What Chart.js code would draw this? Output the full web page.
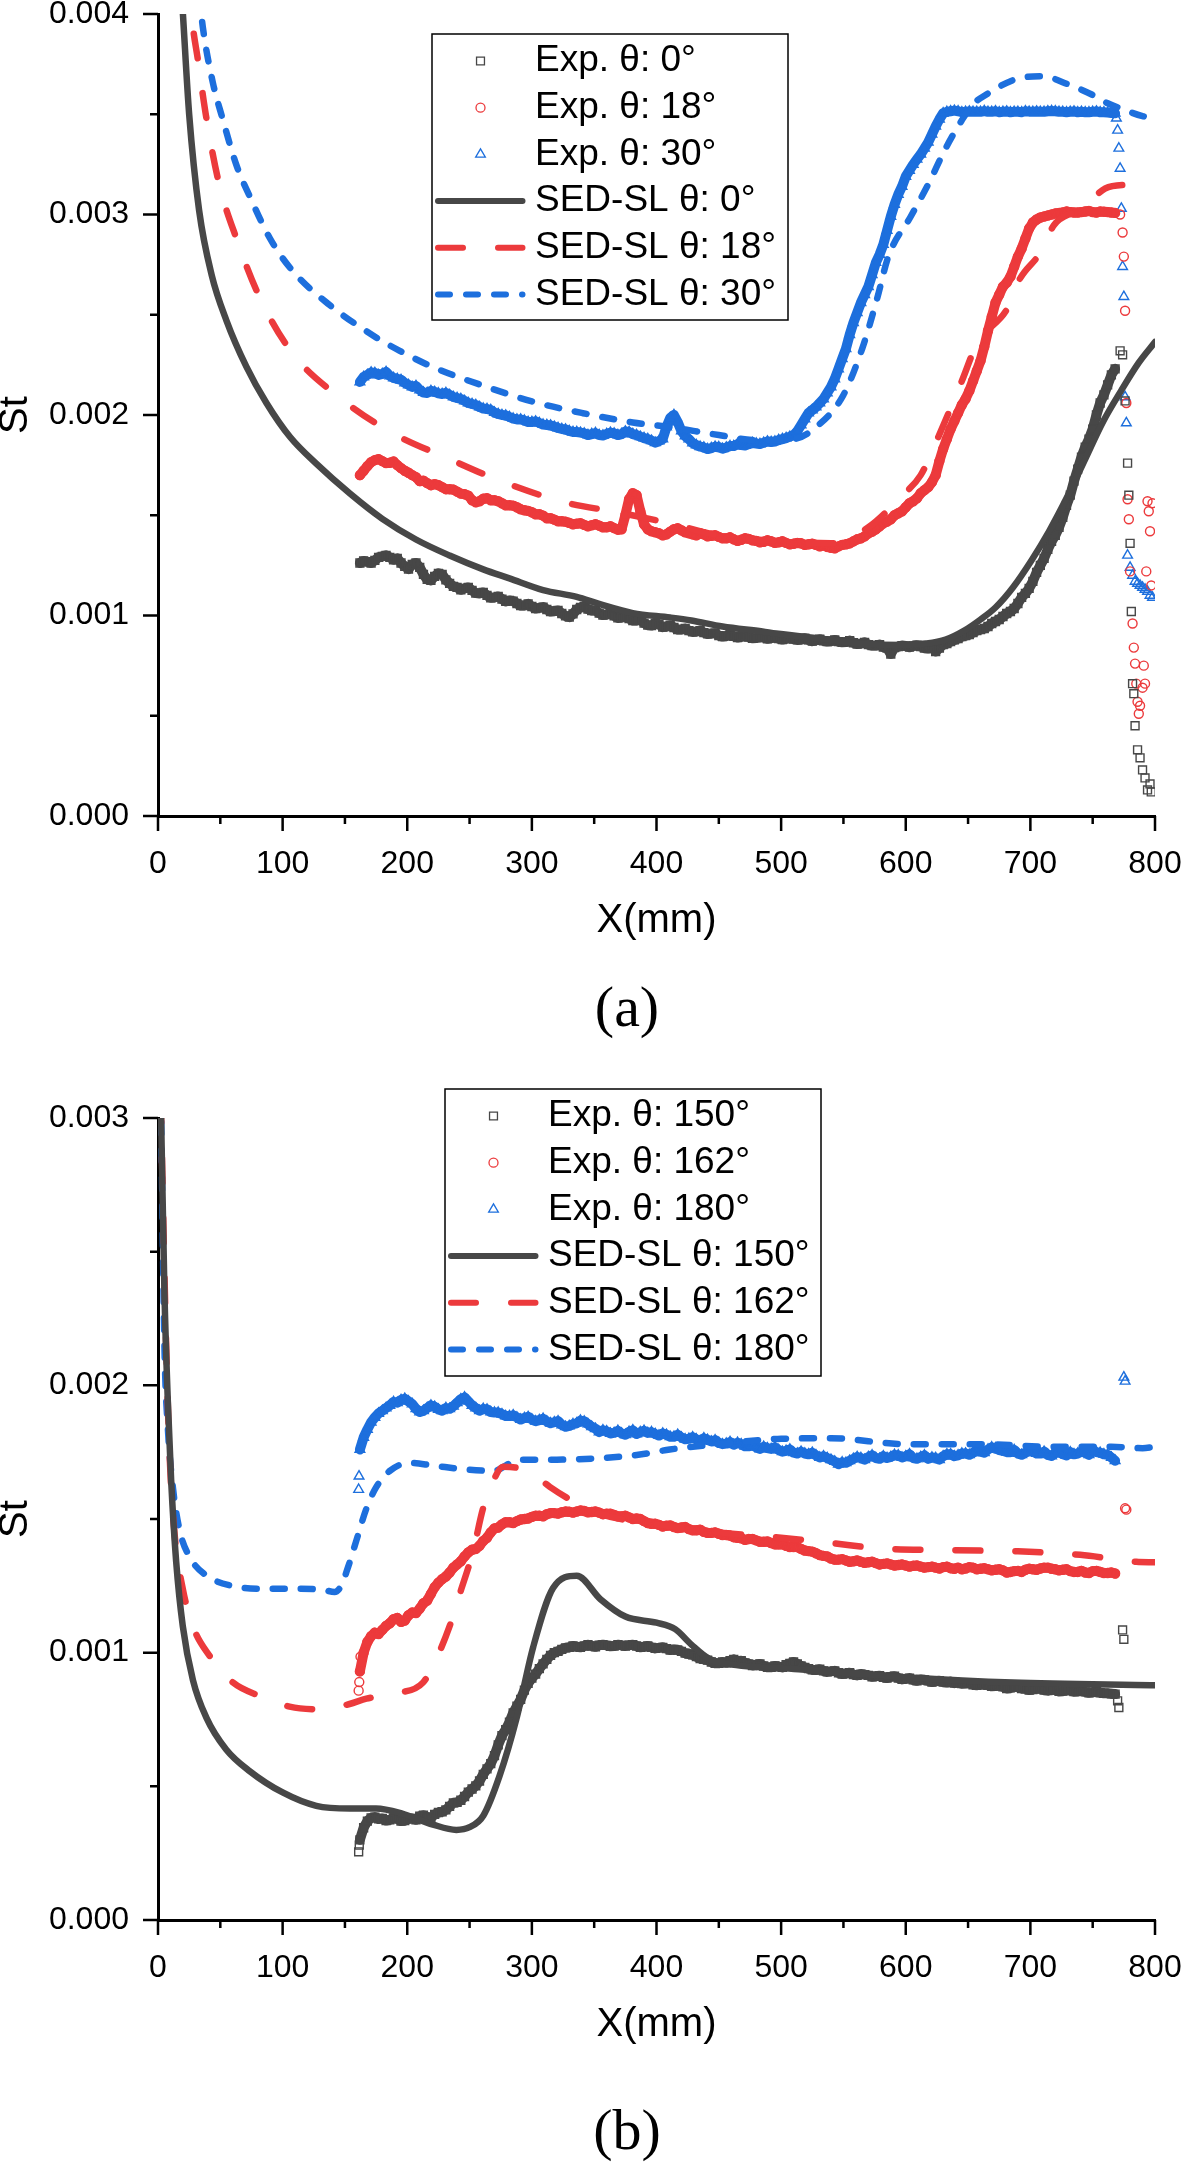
<!DOCTYPE html>
<html>
<head>
<meta charset="utf-8">
<script src="https://cdn.jsdelivr.net/npm/chart.js@4.4.1/dist/chart.umd.min.js"></script>
<style>
  html, body { margin: 0; padding: 0; background: #fff; width: 1181px; height: 2168px; overflow: hidden; position: relative; }
  canvas { position: absolute; left: 0; }
  #chartA { top: -36px; }
  #chartB { top: 1068px; }
  .cap { position: absolute; left: 527px; width: 200px; text-align: center; font-family: "Liberation Serif", serif; font-size: 58px; line-height: 58px; color: #000; }
</style>
</head>
<body>
<canvas id="chartA" width="1215" height="996"></canvas>
<canvas id="chartB" width="1215" height="996"></canvas>
<div class="cap" style="top:978px">(a)</div>
<div class="cap" style="top:2101px">(b)</div>
<script>
// axis ticks
var xTicks = [0, 100, 200, 300, 400, 500, 600, 700, 800]
var xMinor = [50, 150, 250, 350, 450, 550, 650, 750]
var yTicksA = [0, 0.001, 0.002, 0.003, 0.004]
var yMinorA = [0.0005, 0.0015, 0.0025, 0.0035]
var yTicksB = [0, 0.001, 0.002, 0.003]
var yMinorB = [0.0005, 0.0015, 0.0025]

// x positions of the measured points (mm): two interleaved rows
var xGrid = [162,168,174,180,186,192,198,204,210,216,
  222,228,234,240,246,252,258,264,270,276,
  282,288,294,300,306,312,318,324,330,336,
  342,348,354,360,366,372,378,384,390,396,
  402,408,414,420,426,432,438,444,450,456,
  462,468,474,480,486,492,498,504,510,516,
  522,528,534,540,546,552,558,564,570,576,
  582,588,594,600,606,612,618,624,630,636,
  642,648,654,660,666,672,678,684,690,696,
  702,708,714,720,726,732,738,744,750,756,
  762,768]
var xHalf = [165,171,177,183,189,195,201,207,213,219,
  225,231,237,243,249,255,261,267,273,279,
  285,291,297,303,309,315,321,327,333,339,
  345,351,357,363,369,375,381,387,393,399,
  405,411,417,423,429,435,441,447,453,459,
  465,471,477,483,489,495,501,507,513,519,
  525,531,537,543,549,555,561,567,573,579,
  585,591,597,603,609,615,621,627,633,639,
  645,651,657,663,669,675,681,687,693,699,
  705,711,717,723,729,735,741,747,753,759,
  765]

// ---------- (a) experiments ----------
var stExpA0 = [0.001262,0.001268,0.001275,0.001295,0.001290,0.001285,0.001245,0.001255,0.001240,0.001180,
  0.001195,0.001205,0.001160,0.001140,0.001135,0.001125,0.001110,0.001100,0.001090,0.001082,
  0.001075,0.001060,0.001050,0.001045,0.001038,0.001030,0.001022,0.001010,0.000992,0.001030,
  0.001045,0.001025,0.001012,0.001005,0.000998,0.000990,0.000985,0.000975,0.000962,0.000950,
  0.000955,0.000945,0.000940,0.000930,0.000925,0.000920,0.000915,0.000910,0.000900,0.000898,
  0.000896,0.000894,0.000892,0.000888,0.000890,0.000887,0.000885,0.000884,0.000882,0.000880,
  0.000878,0.000876,0.000874,0.000872,0.000870,0.000868,0.000864,0.000860,0.000855,0.000850,
  0.000842,0.000808,0.000845,0.000848,0.000848,0.000845,0.000835,0.000820,0.000855,0.000870,
  0.000885,0.000900,0.000915,0.000930,0.000945,0.000970,0.000995,0.001020,0.001060,0.001110,
  0.001170,0.001250,0.001330,0.001400,0.001490,0.001600,0.001730,0.001840,0.001930,0.002060,
  0.002150,0.002230]
var stExpA0h = [0.001272,0.001262,0.001290,0.001300,0.001278,0.001262,0.001232,0.001262,0.001205,0.001175,
  0.001210,0.001178,0.001145,0.001128,0.001140,0.001112,0.001115,0.001088,0.001095,0.001070,
  0.001072,0.001050,0.001058,0.001035,0.001042,0.001020,0.001025,0.000998,0.001008,0.001040,
  0.001032,0.001025,0.001002,0.001010,0.000988,0.000995,0.000975,0.000980,0.000952,0.000960,
  0.000942,0.000950,0.000930,0.000935,0.000918,0.000925,0.000908,0.000912,0.000895,0.000905,
  0.000890,0.000900,0.000886,0.000895,0.000884,0.000893,0.000880,0.000890,0.000878,0.000887,
  0.000872,0.000882,0.000870,0.000878,0.000866,0.000875,0.000858,0.000866,0.000850,0.000855,
  0.000838,0.000840,0.000850,0.000842,0.000852,0.000838,0.000845,0.000838,0.000860,0.000878,
  0.000895,0.000905,0.000925,0.000935,0.000960,0.000980,0.001010,0.001035,0.001090,0.001135,
  0.001215,0.001285,0.001370,0.001440,0.001550,0.001670,0.001790,0.001880,0.002000,0.002100,
  0.002200]
var stExpA18 = [0.001700,0.001745,0.001775,0.001770,0.001762,0.001750,0.001722,0.001700,0.001670,0.001660,
  0.001655,0.001640,0.001630,0.001618,0.001605,0.001575,0.001570,0.001585,0.001575,0.001560,
  0.001550,0.001540,0.001525,0.001515,0.001505,0.001485,0.001478,0.001470,0.001462,0.001458,
  0.001452,0.001450,0.001448,0.001440,0.001436,0.001430,0.001580,0.001600,0.001455,0.001420,
  0.001410,0.001405,0.001430,0.001425,0.001410,0.001400,0.001405,0.001398,0.001392,0.001385,
  0.001380,0.001378,0.001382,0.001372,0.001368,0.001370,0.001365,0.001362,0.001358,0.001360,
  0.001355,0.001352,0.001350,0.001338,0.001345,0.001355,0.001370,0.001385,0.001410,0.001430,
  0.001460,0.001480,0.001510,0.001540,0.001570,0.001610,0.001640,0.001700,0.001830,0.001930,
  0.002010,0.002080,0.002170,0.002270,0.002420,0.002560,0.002640,0.002690,0.002790,0.002880,
  0.002960,0.002985,0.002995,0.003005,0.003010,0.003012,0.003010,0.003015,0.003012,0.003015,
  0.003012,0.003008]
var stExpA18h = [0.001722,0.001765,0.001780,0.001760,0.001768,0.001735,0.001712,0.001690,0.001672,0.001650,
  0.001650,0.001630,0.001628,0.001608,0.001598,0.001565,0.001582,0.001575,0.001570,0.001550,
  0.001548,0.001530,0.001522,0.001505,0.001498,0.001485,0.001470,0.001468,0.001455,0.001460,
  0.001445,0.001455,0.001440,0.001445,0.001428,0.001500,0.001610,0.001520,0.001430,0.001415,
  0.001400,0.001418,0.001435,0.001415,0.001405,0.001410,0.001395,0.001400,0.001385,0.001390,
  0.001372,0.001385,0.001375,0.001365,0.001375,0.001362,0.001370,0.001355,0.001362,0.001352,
  0.001358,0.001345,0.001342,0.001335,0.001352,0.001360,0.001380,0.001395,0.001418,0.001445,
  0.001468,0.001500,0.001520,0.001560,0.001585,0.001625,0.001665,0.001770,0.001880,0.001970,
  0.002050,0.002120,0.002220,0.002340,0.002490,0.002600,0.002660,0.002740,0.002830,0.002930,
  0.002975,0.002990,0.003000,0.003008,0.003015,0.003010,0.003012,0.003018,0.003010,0.003014,
  0.003010]
var stExpA30 = [0.002165,0.002200,0.002210,0.002205,0.002195,0.002180,0.002160,0.002140,0.002125,0.002110,
  0.002115,0.002105,0.002100,0.002085,0.002070,0.002055,0.002040,0.002030,0.002012,0.002000,
  0.001990,0.001978,0.001972,0.001965,0.001960,0.001950,0.001942,0.001930,0.001920,0.001915,
  0.001908,0.001905,0.001900,0.001905,0.001908,0.001905,0.001915,0.001900,0.001885,0.001872,
  0.001870,0.001940,0.002000,0.001920,0.001880,0.001850,0.001838,0.001835,0.001840,0.001838,
  0.001845,0.001850,0.001855,0.001858,0.001862,0.001865,0.001875,0.001885,0.001900,0.001950,
  0.002010,0.002040,0.002080,0.002140,0.002230,0.002330,0.002460,0.002560,0.002640,0.002760,
  0.002850,0.002990,0.003100,0.003190,0.003250,0.003300,0.003360,0.003440,0.003505,0.003515,
  0.003515,0.003512,0.003512,0.003512,0.003512,0.003515,0.003512,0.003510,0.003512,0.003515,
  0.003512,0.003512,0.003515,0.003515,0.003512,0.003512,0.003510,0.003510,0.003512,0.003510,
  0.003508,0.003505]
var stExpA30h = [0.002190,0.002212,0.002200,0.002215,0.002185,0.002175,0.002150,0.002145,0.002112,0.002120,
  0.002108,0.002110,0.002090,0.002080,0.002060,0.002050,0.002032,0.002025,0.002005,0.001998,
  0.001982,0.001978,0.001965,0.001968,0.001952,0.001948,0.001935,0.001928,0.001915,0.001912,
  0.001900,0.001910,0.001898,0.001912,0.001900,0.001918,0.001905,0.001892,0.001880,0.001862,
  0.001880,0.001985,0.001965,0.001895,0.001860,0.001842,0.001830,0.001842,0.001832,0.001845,
  0.001855,0.001848,0.001860,0.001855,0.001868,0.001868,0.001880,0.001892,0.001920,0.001980,
  0.002025,0.002060,0.002110,0.002180,0.002280,0.002400,0.002510,0.002600,0.002700,0.002800,
  0.002920,0.003050,0.003140,0.003220,0.003275,0.003330,0.003400,0.003475,0.003512,0.003518,
  0.003510,0.003514,0.003512,0.003516,0.003512,0.003510,0.003514,0.003512,0.003510,0.003513,
  0.003514,0.003512,0.003516,0.003512,0.003510,0.003514,0.003512,0.003510,0.003514,0.003510,
  0.003506]

// scattered points near the trailing edge
var tailXA0 = [772,774,776,778,779,780,781,782,783,784,786,788,790,792,794,796,797]
var tailStA0 = [0.002320,0.002300,0.002070,0.001760,0.001600,0.001360,0.001020,0.000660,0.000610,0.000450,0.000330,0.000290,0.000230,0.000190,0.000130,0.000160,0.000120]
var tailXA18 = [772,774,775,776,777,778,779,780,782,783,784,785,786,787,788,790,791,792,793,794,795,796,797,798]
var tailStA18 = [0.003000,0.002910,0.002790,0.002520,0.002060,0.001580,0.001480,0.001220,0.000960,0.000840,0.000760,0.000660,0.000570,0.000510,0.000550,0.000640,0.000750,0.000660,0.001220,0.001570,0.001520,0.001420,0.001150,0.001560]
var tailXA30 = [769,770,771,772,773,774,775,776,777,778,780,782,784,786,788,790,792,794,796,798]
var tailStA30 = [0.003480,0.003420,0.003330,0.003230,0.003030,0.002740,0.002590,0.002090,0.001960,0.001300,0.001240,0.001200,0.001170,0.001160,0.001150,0.001140,0.001130,0.001120,0.001100,0.001090]

// ---------- (a) SED-SL ----------
var sedXA0 = [15,18,20,25,33,43,55,71,87,106,127,154,180,207,234,261,282,309,336,354,381,411,428,453,485,496,538,574,600,616,632,647,660,672,686,701,715,730,744,758,773,787,800]
var sedStA0 = [0.00460,0.00420,0.00400,0.00350,0.00302,0.00270,0.00247,0.00224,0.00206,0.00189,0.001757,0.001608,0.001482,0.001379,0.001299,0.001230,0.001185,0.001127,0.001093,0.001058,0.001012,0.000990,0.000975,0.000945,0.000920,0.000910,0.000880,0.000855,0.000853,0.000860,0.000880,0.000925,0.000980,0.001040,0.001140,0.001276,0.001420,0.001597,0.001780,0.001963,0.002123,0.002261,0.002364]
var sedXA18 = [25,27,32,39,49,63,82,108,143,186,234,277,328,368,411,450,500,540,570,597,612,624,645,657,682,691,708,719,737,750,760,780,800]
var sedStA18 = [0.00420,0.00400,0.003772,0.003474,0.003154,0.002879,0.002581,0.002307,0.002100,0.001917,0.001780,0.001666,0.001562,0.001516,0.001459,0.001400,0.001370,0.001360,0.001440,0.001597,0.001700,0.001860,0.002169,0.002353,0.002536,0.002673,0.002810,0.002948,0.003020,0.003080,0.003130,0.003150,0.003165]
var sedXA30 = [33,36,44,52,63,74,90,108,138,175,194,221,261,301,341,381,410,450,480,510,530,550,565,577,586,604,618,632,645,654,665,686,698,709,730,752,762,772,790,800]
var sedStA30 = [0.00410,0.003933,0.003658,0.003474,0.003245,0.003085,0.002879,0.002719,0.002547,0.002387,0.002320,0.002238,0.002146,0.002066,0.002009,0.001963,0.001940,0.001900,0.001875,0.001880,0.001950,0.002100,0.002330,0.002580,0.002790,0.002990,0.003150,0.003330,0.003470,0.003550,0.003600,0.003670,0.003687,0.003690,0.003650,0.003590,0.003555,0.003530,0.003491,0.003480]

// ---------- (b) experiments ----------
var stExpB150 = [0.000300,0.000370,0.000385,0.000380,0.000375,0.000378,0.000372,0.000380,0.000388,0.000385,
  0.000395,0.000405,0.000425,0.000440,0.000462,0.000490,0.000520,0.000565,0.000615,0.000690,
  0.000740,0.000800,0.000860,0.000905,0.000940,0.000975,0.001000,0.001012,0.001020,0.001022,
  0.001025,0.001025,0.001028,0.001027,0.001025,0.001027,0.001028,0.001025,0.001022,0.001020,
  0.001018,0.001015,0.001012,0.001005,0.000995,0.000985,0.000975,0.000965,0.000960,0.000962,
  0.000975,0.000970,0.000958,0.000955,0.000950,0.000945,0.000948,0.000955,0.000965,0.000950,
  0.000940,0.000935,0.000932,0.000930,0.000925,0.000922,0.000918,0.000920,0.000915,0.000912,
  0.000908,0.000910,0.000905,0.000902,0.000898,0.000900,0.000895,0.000893,0.000890,0.000892,
  0.000888,0.000885,0.000880,0.000882,0.000878,0.000875,0.000872,0.000868,0.000870,0.000865,
  0.000862,0.000865,0.000858,0.000860,0.000856,0.000858,0.000855,0.000853,0.000852,0.000850,
  0.000848,0.000845]
var stExpB150h = [0.000345,0.000382,0.000378,0.000372,0.000382,0.000370,0.000378,0.000375,0.000392,0.000382,
  0.000402,0.000412,0.000438,0.000448,0.000478,0.000502,0.000545,0.000585,0.000655,0.000712,
  0.000775,0.000825,0.000885,0.000920,0.000958,0.000990,0.001005,0.001018,0.001025,0.001020,
  0.001030,0.001022,0.001030,0.001024,0.001030,0.001025,0.001030,0.001020,0.001025,0.001016,
  0.001020,0.001010,0.001010,0.000998,0.000992,0.000978,0.000972,0.000960,0.000965,0.000970,
  0.000968,0.000962,0.000952,0.000958,0.000945,0.000950,0.000945,0.000960,0.000958,0.000945,
  0.000936,0.000938,0.000928,0.000932,0.000920,0.000925,0.000915,0.000918,0.000910,0.000914,
  0.000905,0.000912,0.000900,0.000905,0.000895,0.000898,0.000890,0.000895,0.000888,0.000886,
  0.000884,0.000886,0.000878,0.000880,0.000874,0.000877,0.000866,0.000872,0.000866,0.000860,
  0.000866,0.000860,0.000862,0.000855,0.000860,0.000854,0.000857,0.000850,0.000854,0.000848,
  0.000846]
var stExpB162 = [0.000930,0.001040,0.001075,0.001085,0.001110,0.001130,0.001120,0.001150,0.001165,0.001195,
  0.001245,0.001275,0.001300,0.001330,0.001360,0.001385,0.001400,0.001430,0.001465,0.001480,
  0.001488,0.001492,0.001500,0.001508,0.001512,0.001518,0.001522,0.001525,0.001527,0.001528,
  0.001530,0.001526,0.001524,0.001520,0.001515,0.001510,0.001506,0.001502,0.001492,0.001482,
  0.001478,0.001475,0.001470,0.001468,0.001462,0.001458,0.001452,0.001448,0.001445,0.001440,
  0.001432,0.001428,0.001425,0.001420,0.001415,0.001410,0.001405,0.001400,0.001395,0.001388,
  0.001380,0.001372,0.001362,0.001352,0.001348,0.001345,0.001342,0.001340,0.001338,0.001335,
  0.001332,0.001330,0.001328,0.001326,0.001325,0.001322,0.001320,0.001318,0.001320,0.001316,
  0.001318,0.001315,0.001318,0.001314,0.001312,0.001310,0.001308,0.001302,0.001306,0.001310,
  0.001312,0.001315,0.001318,0.001312,0.001310,0.001305,0.001302,0.001300,0.001305,0.001302,
  0.001298,0.001296]
var stExpB162h = [0.001000,0.001062,0.001070,0.001100,0.001125,0.001115,0.001140,0.001148,0.001185,0.001220,
  0.001262,0.001285,0.001318,0.001342,0.001375,0.001388,0.001418,0.001450,0.001468,0.001488,
  0.001485,0.001498,0.001502,0.001512,0.001510,0.001522,0.001520,0.001528,0.001524,0.001532,
  0.001525,0.001528,0.001518,0.001520,0.001510,0.001512,0.001500,0.001500,0.001485,0.001482,
  0.001472,0.001476,0.001466,0.001470,0.001458,0.001460,0.001448,0.001450,0.001440,0.001438,
  0.001430,0.001422,0.001425,0.001415,0.001416,0.001405,0.001405,0.001395,0.001395,0.001382,
  0.001378,0.001365,0.001360,0.001348,0.001350,0.001340,0.001345,0.001336,0.001340,0.001330,
  0.001334,0.001326,0.001330,0.001322,0.001326,0.001318,0.001322,0.001315,0.001322,0.001314,
  0.001312,0.001320,0.001312,0.001316,0.001308,0.001312,0.001300,0.001305,0.001302,0.001314,
  0.001310,0.001318,0.001314,0.001308,0.001312,0.001302,0.001306,0.001298,0.001306,0.001298,
  0.001300]
var stExpB180 = [0.001760,0.001835,0.001880,0.001905,0.001925,0.001935,0.001950,0.001930,0.001900,0.001915,
  0.001920,0.001905,0.001912,0.001935,0.001955,0.001925,0.001905,0.001910,0.001898,0.001892,
  0.001885,0.001880,0.001878,0.001872,0.001870,0.001865,0.001862,0.001852,0.001848,0.001858,
  0.001865,0.001845,0.001825,0.001828,0.001822,0.001820,0.001826,0.001818,0.001830,0.001825,
  0.001812,0.001815,0.001808,0.001805,0.001800,0.001798,0.001802,0.001790,0.001785,0.001782,
  0.001778,0.001780,0.001772,0.001768,0.001770,0.001762,0.001758,0.001755,0.001748,0.001752,
  0.001742,0.001738,0.001735,0.001722,0.001705,0.001710,0.001725,0.001728,0.001732,0.001728,
  0.001735,0.001732,0.001738,0.001735,0.001728,0.001732,0.001725,0.001728,0.001735,0.001742,
  0.001738,0.001745,0.001748,0.001752,0.001760,0.001765,0.001755,0.001750,0.001745,0.001748,
  0.001752,0.001745,0.001740,0.001748,0.001742,0.001750,0.001745,0.001748,0.001755,0.001748,
  0.001740,0.001718]
var stExpB180h = [0.001805,0.001862,0.001895,0.001915,0.001938,0.001945,0.001940,0.001912,0.001905,0.001925,
  0.001910,0.001915,0.001922,0.001948,0.001940,0.001915,0.001912,0.001900,0.001898,0.001885,
  0.001888,0.001872,0.001882,0.001866,0.001875,0.001858,0.001866,0.001845,0.001855,0.001868,
  0.001855,0.001838,0.001832,0.001820,0.001830,0.001815,0.001832,0.001825,0.001822,0.001818,
  0.001820,0.001808,0.001815,0.001798,0.001806,0.001792,0.001796,0.001795,0.001780,0.001788,
  0.001785,0.001772,0.001778,0.001762,0.001765,0.001768,0.001752,0.001760,0.001745,0.001745,
  0.001748,0.001730,0.001728,0.001715,0.001712,0.001718,0.001732,0.001722,0.001738,0.001725,
  0.001728,0.001740,0.001730,0.001742,0.001725,0.001738,0.001730,0.001722,0.001742,0.001735,
  0.001745,0.001740,0.001755,0.001748,0.001768,0.001758,0.001750,0.001758,0.001740,0.001755,
  0.001745,0.001752,0.001736,0.001755,0.001738,0.001742,0.001752,0.001740,0.001750,0.001742,
  0.001730]

var tailXB150 = [161,161.5,770,771,774,775]
var tailStB150 = [0.000255,0.000280,0.000820,0.000795,0.001085,0.001050]
var tailXB162 = [161,161.5,162.5,776,777]
var tailStB162 = [0.000858,0.000890,0.000985,0.001540,0.001535]
var tailXB180 = [161,161.3,775,776]
var tailStB180 = [0.001610,0.001660,0.002030,0.002015]

// ---------- (b) SED-SL ----------
var sedXB150 = [1,2.5,5.2,7.9,10.6,14.6,19.9,28,38.7,54.7,73.5,100,127,154,175,196.5,220.6,239.4,250,261,274,288,301,317,336,355,375,400,415,428,442,457,514,600,686,800]
var sedStB150 = [0.00330,0.00300,0.002341,0.001940,0.001640,0.001339,0.001099,0.000898,0.000758,0.000638,0.000557,0.000477,0.000427,0.000417,0.000417,0.000397,0.000357,0.000337,0.000347,0.000390,0.000538,0.000760,0.001020,0.001242,0.001288,0.001200,0.001135,0.001112,0.001088,0.001030,0.000978,0.000958,0.000938,0.000908,0.000888,0.000878]
var sedXB162 = [1,2.5,4.6,6.6,9.3,13.4,19.9,28,41.4,60.2,81.5,105.6,132.4,153.7,167.2,191.2,212.6,223.4,234,242.1,252.8,260.8,268.8,276.8,290,300.9,314.4,335.7,354.4,400,450,500,540,580,640,690,740,785,800]
var sedStB162 = [0.00330,0.00300,0.002541,0.002141,0.001740,0.001439,0.001239,0.001099,0.000988,0.000888,0.000838,0.000798,0.000788,0.000808,0.000828,0.000848,0.000888,0.000978,0.001099,0.001219,0.001379,0.001539,0.001640,0.001695,0.001690,0.001670,0.001620,0.001560,0.001519,0.001480,0.001450,0.001430,0.001410,0.001390,0.001383,0.001379,0.001366,0.001340,0.001338]
var sedXB180 = [1,2.5,5.2,7.9,11.9,17.3,25.3,38.7,60.2,87,113.7,132.4,141.7,147,152.5,159.2,167.2,175.2,186,202,220.7,247.4,268.8,290,320,356.5,386.7,410.6,450,500,540,600,660,720,765,790,800]
var sedStB180 = [0.00330,0.00300,0.002141,0.001840,0.001620,0.001459,0.001359,0.001289,0.001249,0.001239,0.001239,0.001235,0.001227,0.001250,0.001320,0.001420,0.001539,0.001620,0.001680,0.001710,0.001700,0.001685,0.001680,0.001722,0.001722,0.001728,0.001741,0.001760,0.001780,0.001800,0.001802,0.001780,0.001780,0.001770,0.001770,0.001765,0.001770]

var FONT = '"Liberation Sans", Arial, sans-serif'
var GRAY = '#474747'
var RED = '#ec3a3c'
var BLUE = '#1d6fdd'

Chart.defaults.font.family = FONT
Chart.defaults.color = '#000'

function pontos(xs, ys) {
    return xs.map((x, i) => ({ x: x, y: ys[i] }))
}

// as duas fileiras de medidas, ordenadas em x
function juntar(ys, ysMeio) {
    return pontos(xGrid, ys).concat(pontos(xHalf, ysMeio)).sort((p, q) => p.x - q.x)
}

// faixa densa de marcadores (as medidas se sobrepoem formando uma faixa)
function serieExp(label, ys, ysMeio, cor, estilo, raio) {
    return {
        label: label,
        tipo: 'exp',
        data: juntar(ys, ysMeio),
        showLine: true,
        borderColor: cor,
        borderWidth: 10,
        borderJoinStyle: 'round',
        borderCapStyle: 'round',
        pointStyle: estilo,
        pointRadius: raio,
        pointBorderColor: cor,
        pointBackgroundColor: 'rgba(0,0,0,0)',
        pointBorderWidth: 1.4,
        order: 1
    }
}

// pontos soltos no bordo de fuga
function serieCauda(tx, ty, cor, estilo, raio) {
    return {
        label: '',
        data: pontos(tx, ty),
        showLine: false,
        pointStyle: estilo,
        pointRadius: raio,
        pointBorderColor: cor,
        pointBackgroundColor: 'rgba(0,0,0,0)',
        pointBorderWidth: 1.4,
        order: 1
    }
}

function serieSed(label, xs, ys, cor, traco) {
    return {
        label: label,
        tipo: 'sed',
        data: pontos(xs, ys),
        showLine: true,
        borderColor: cor,
        borderWidth: 6.5,
        borderDash: traco,
        borderCapStyle: 'round',
        borderJoinStyle: 'round',
        cubicInterpolationMode: 'monotone',
        pointRadius: 0,
        order: 0
    }
}

// marcas de escala (maiores e menores) + legenda com moldura
const extras = {
    id: 'extras',
    afterDraw(chart, args, opts) {
        const ctx = chart.ctx
        const area = chart.chartArea
        const sx = chart.scales.x, sy = chart.scales.y
        ctx.save()
        ctx.strokeStyle = '#000'
        ctx.lineWidth = 2.5
        ctx.beginPath()
        xTicks.forEach(v => { const p = sx.getPixelForValue(v); ctx.moveTo(p, area.bottom); ctx.lineTo(p, area.bottom + 15) })
        xMinor.forEach(v => { const p = sx.getPixelForValue(v); ctx.moveTo(p, area.bottom); ctx.lineTo(p, area.bottom + 8) })
        opts.yTicks.forEach(v => { const p = sy.getPixelForValue(v); ctx.moveTo(area.left, p); ctx.lineTo(area.left - 15, p) })
        opts.yMinor.forEach(v => { const p = sy.getPixelForValue(v); ctx.moveTo(area.left, p); ctx.lineTo(area.left - 8, p) })
        ctx.stroke()

        // legenda
        const bx = area.left + opts.box.dx, by = area.top + opts.box.dy
        ctx.fillStyle = '#fff'
        ctx.fillRect(bx, by, opts.box.w, opts.box.h)
        ctx.lineWidth = 1.5
        ctx.strokeRect(bx, by, opts.box.w, opts.box.h)
        chart.data.datasets.filter(ds => ds.label).forEach((ds, i) => {
            const cy = by + 27 + i * 46.7
            if (ds.tipo === 'sed') {
                ctx.save()
                ctx.strokeStyle = ds.borderColor
                ctx.lineWidth = 6
                ctx.lineCap = 'round'
                ctx.setLineDash(ds.borderDash || [])
                ctx.beginPath()
                ctx.moveTo(bx + 6, cy)
                ctx.lineTo(bx + 90.5, cy)
                ctx.stroke()
                ctx.restore()
            } else {
                ctx.save()
                ctx.strokeStyle = ds.pointBorderColor
                ctx.fillStyle = 'rgba(0,0,0,0)'
                ctx.lineWidth = 1.3
                Chart.helpers.drawPoint(ctx, { pointStyle: ds.pointStyle, radius: ds.pointRadius, borderWidth: 1.3, rotation: 0 }, bx + 48.5, cy)
                ctx.restore()
            }
            ctx.fillStyle = '#000'
            ctx.font = '37px ' + FONT
            ctx.textAlign = 'left'
            ctx.textBaseline = 'middle'
            ctx.fillText(ds.label, bx + 103, cy)
        })
        ctx.restore()
    }
}

function criarGrafico(id, datasets, yMax, yTicks, yMinor, box) {
    return new Chart(document.getElementById(id), {
        type: 'scatter',
        data: { datasets: datasets },
        options: {
            responsive: false,
            animation: false,
            devicePixelRatio: 1,
            events: [],
            layout: { padding: { top: 50, right: 60, bottom: 0, left: 0 } },
            plugins: {
                legend: { display: false },
                tooltip: { enabled: false },
                extras: { yTicks: yTicks, yMinor: yMinor, box: box }
            },
            scales: {
                x: {
                    type: 'linear', min: 0, max: 800,
                    afterBuildTicks: s => { s.ticks = xTicks.map(v => ({ value: v })) },
                    afterFit: s => { s.height = 144 },
                    grid: { display: false, drawTicks: false },
                    border: { display: true, color: '#000', width: 3 },
                    ticks: { color: '#000', font: { size: 32 }, padding: 29, maxRotation: 0, autoSkip: false },
                    title: { display: true, text: 'X(mm)', color: '#000', font: { size: 40 }, padding: { top: 0, bottom: 15 } }
                },
                y: {
                    type: 'linear', min: 0, max: yMax,
                    afterBuildTicks: s => { s.ticks = yTicks.map(v => ({ value: v })) },
                    afterFit: s => { s.width = 158 },
                    grid: { display: false, drawTicks: false },
                    border: { display: true, color: '#000', width: 3 },
                    ticks: { color: '#000', font: { size: 32 }, padding: 29, autoSkip: false, callback: v => v.toFixed(3) },
                    title: { display: true, text: 'St', color: '#000', font: { size: 40, lineHeight: 0.8 }, padding: { top: 0, bottom: 0 } }
                }
            }
        },
        plugins: [extras]
    })
}

// Grafico (a)
criarGrafico('chartA', [
    serieExp('Exp. θ: 0°', stExpA0, stExpA0h, GRAY, 'rect', 5.6),
    serieExp('Exp. θ: 18°', stExpA18, stExpA18h, RED, 'circle', 4.5),
    serieExp('Exp. θ: 30°', stExpA30, stExpA30h, BLUE, 'triangle', 5.6),
    serieSed('SED-SL θ: 0°', sedXA0, sedStA0, GRAY, []),
    serieSed('SED-SL θ: 18°', sedXA18, sedStA18, RED, [25, 35]),
    serieSed('SED-SL θ: 30°', sedXA30, sedStA30, BLUE, [12, 16]),
    serieCauda(tailXA0, tailStA0, GRAY, 'rect', 5.6),
    serieCauda(tailXA18, tailStA18, RED, 'circle', 4.5),
    serieCauda(tailXA30, tailStA30, BLUE, 'triangle', 5.6)
], 0.004, yTicksA, yMinorA, { dx: 274, dy: 20, w: 356, h: 286 })

// Grafico (b)
criarGrafico('chartB', [
    serieExp('Exp. θ: 150°', stExpB150, stExpB150h, GRAY, 'rect', 5.6),
    serieExp('Exp. θ: 162°', stExpB162, stExpB162h, RED, 'circle', 4.5),
    serieExp('Exp. θ: 180°', stExpB180, stExpB180h, BLUE, 'triangle', 5.6),
    serieSed('SED-SL θ: 150°', sedXB150, sedStB150, GRAY, []),
    serieSed('SED-SL θ: 162°', sedXB162, sedStB162, RED, [25, 35]),
    serieSed('SED-SL θ: 180°', sedXB180, sedStB180, BLUE, [12, 16]),
    serieCauda(tailXB150, tailStB150, GRAY, 'rect', 5.6),
    serieCauda(tailXB162, tailStB162, RED, 'circle', 4.5),
    serieCauda(tailXB180, tailStB180, BLUE, 'triangle', 5.6)
], 0.003, yTicksB, yMinorB, { dx: 287, dy: -29, w: 376, h: 287 })
</script>
</body>
</html>
